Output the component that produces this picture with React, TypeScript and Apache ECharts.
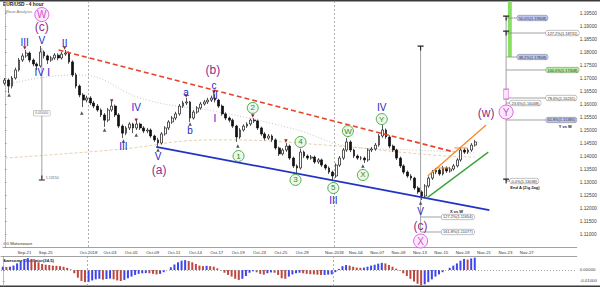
import React, { useEffect, useRef } from 'react';
import * as echarts from 'echarts';

const FONT = '"Liberation Sans", Arial, Helvetica, sans-serif';

/* ---------- EUR/USD price: 8-hour candles, slot 0 opens on Sep-19 ---------- */
const FIRST_DAY = -8; // trading day of slot 0, counted from Oct-01
const SLOTS_PER_DAY = 3;
const firstOpen = 1.168;

const closes = [
  1.1692, 1.1669, 1.1700, 1.1731, 1.1769, 1.1785, 1.1796, 1.1769, 1.1754, 1.1746,
  1.1800, 1.1785, 1.1769, 1.1777, 1.1788, 1.1777, 1.1792, 1.1796, 1.1762, 1.1712,
  1.1669, 1.1635, 1.1615, 1.1623, 1.1604, 1.1592, 1.1577, 1.1558, 1.1538, 1.1577,
  1.1592, 1.1558, 1.1515, 1.1488, 1.1508, 1.1523, 1.1508, 1.1523, 1.1508, 1.1496,
  1.1500, 1.1477, 1.1462, 1.1450, 1.1485, 1.1508, 1.1531, 1.1546, 1.1562, 1.1592,
  1.1604, 1.1608, 1.1546, 1.1569, 1.1585, 1.1600, 1.1608, 1.1615, 1.1623, 1.1615,
  1.1592, 1.1562, 1.1546, 1.1538, 1.1515, 1.1473, 1.1500, 1.1515, 1.1523, 1.1538,
  1.1535, 1.1508, 1.1485, 1.1469, 1.1477, 1.1462, 1.1431, 1.1408, 1.1423, 1.1438,
  1.1392, 1.1362, 1.1354, 1.1415, 1.1400, 1.1392, 1.1396, 1.1377, 1.1385, 1.1365,
  1.1354, 1.1338, 1.1323, 1.1365, 1.1392, 1.1423, 1.1454, 1.1423, 1.1400, 1.1392,
  1.1392, 1.1385, 1.1423, 1.1427, 1.1442, 1.1477, 1.1500, 1.1473, 1.1438, 1.1423,
  1.1392, 1.1362, 1.1338, 1.1323, 1.1315, 1.1277, 1.1262, 1.1246, 1.1285, 1.1315,
  1.1338, 1.1346, 1.1331, 1.1354, 1.1342, 1.1350, 1.1362, 1.1385, 1.1423, 1.1415,
  1.1423, 1.1442, 1.1454,
];

const highs = [
  1.1700, 1.1698, 1.1708, 1.1740, 1.1777, 1.1795, 1.1808, 1.1802, 1.1775, 1.1760,
  1.1823, 1.1806, 1.1790, 1.1785, 1.1796, 1.1795, 1.1800, 1.1808, 1.1802, 1.1768,
  1.1720, 1.1675, 1.1642, 1.1632, 1.1630, 1.1612, 1.1600, 1.1583, 1.1565, 1.1585,
  1.1608, 1.1598, 1.1565, 1.1522, 1.1515, 1.1530, 1.1528, 1.1535, 1.1528, 1.1515,
  1.1508, 1.1506, 1.1482, 1.1470, 1.1492, 1.1515, 1.1538, 1.1554, 1.1570, 1.1600,
  1.1612, 1.1623, 1.1612, 1.1577, 1.1592, 1.1608, 1.1616, 1.1624, 1.1632, 1.1638,
  1.1620, 1.1598, 1.1568, 1.1552, 1.1544, 1.1520, 1.1507, 1.1522, 1.1530, 1.1544,
  1.1546, 1.1540, 1.1513, 1.1492, 1.1485, 1.1483, 1.1468, 1.1436, 1.1430, 1.1450,
  1.1444, 1.1398, 1.1368, 1.1427, 1.1421, 1.1406, 1.1404, 1.1402, 1.1392, 1.1390,
  1.1370, 1.1360, 1.1344, 1.1372, 1.1400, 1.1431, 1.1469, 1.1460, 1.1428, 1.1406,
  1.1400, 1.1398, 1.1430, 1.1435, 1.1450, 1.1485, 1.1519, 1.1506, 1.1480, 1.1444,
  1.1428, 1.1398, 1.1368, 1.1344, 1.1330, 1.1320, 1.1284, 1.1268, 1.1292, 1.1322,
  1.1346, 1.1354, 1.1352, 1.1362, 1.1360, 1.1358, 1.1369, 1.1392, 1.1431, 1.1430,
  1.1430, 1.1450, 1.1462,
];

const lows = [
  1.1672, 1.1642, 1.1660, 1.1694, 1.1725, 1.1762, 1.1778, 1.1760, 1.1745, 1.1731,
  1.1740, 1.1775, 1.1754, 1.1762, 1.1770, 1.1768, 1.1771, 1.1785, 1.1755, 1.1704,
  1.1660, 1.1626, 1.1588, 1.1606, 1.1596, 1.1584, 1.1570, 1.1550, 1.1512, 1.1530,
  1.1570, 1.1550, 1.1507, 1.1469, 1.1480, 1.1500, 1.1488, 1.1500, 1.1500, 1.1488,
  1.1488, 1.1470, 1.1454, 1.1431, 1.1444, 1.1478, 1.1500, 1.1524, 1.1538, 1.1555,
  1.1585, 1.1596, 1.1531, 1.1540, 1.1562, 1.1578, 1.1594, 1.1600, 1.1608, 1.1606,
  1.1585, 1.1555, 1.1538, 1.1530, 1.1508, 1.1454, 1.1466, 1.1494, 1.1508, 1.1516,
  1.1527, 1.1500, 1.1478, 1.1460, 1.1462, 1.1454, 1.1424, 1.1400, 1.1402, 1.1416,
  1.1385, 1.1354, 1.1335, 1.1348, 1.1392, 1.1385, 1.1386, 1.1370, 1.1370, 1.1358,
  1.1346, 1.1331, 1.1304, 1.1316, 1.1358, 1.1385, 1.1416, 1.1415, 1.1392, 1.1385,
  1.1384, 1.1373, 1.1378, 1.1415, 1.1420, 1.1436, 1.1470, 1.1466, 1.1430, 1.1415,
  1.1385, 1.1354, 1.1330, 1.1316, 1.1306, 1.1270, 1.1254, 1.1231, 1.1240, 1.1278,
  1.1308, 1.1330, 1.1324, 1.1325, 1.1335, 1.1336, 1.1344, 1.1356, 1.1378, 1.1408,
  1.1408, 1.1416, 1.1436,
];

/* Awesome Oscillator (34,5), one value per slot */
const aoValues = [
  0.0030, 0.0028, 0.0030, 0.0040, 0.0060, 0.0080, 0.0100, 0.0108, 0.0100, 0.0085,
  0.0070, 0.0055, 0.0048, 0.0045, 0.0040, 0.0038, 0.0035, 0.0030, 0.0020, 0.0005,
  -0.0030, -0.0070, -0.0100, -0.0110, -0.0108, -0.0095, -0.0085, -0.0080, -0.0088, -0.0082,
  -0.0078, -0.0085, -0.0095, -0.0100, -0.0090, -0.0075, -0.0060, -0.0045, -0.0035, -0.0030,
  -0.0028, -0.0030, -0.0035, -0.0040, -0.0035, -0.0020, 0.0000, 0.0025, 0.0050, 0.0070,
  0.0085, 0.0090, 0.0082, 0.0070, 0.0055, 0.0040, 0.0035, 0.0038, 0.0035, 0.0030,
  0.0015, -0.0005, -0.0025, -0.0045, -0.0060, -0.0080, -0.0090, -0.0080, -0.0055, -0.0025,
  -0.0012, -0.0020, -0.0035, -0.0042, -0.0030, -0.0022, -0.0025, -0.0045, -0.0075, -0.0080,
  -0.0060, -0.0040, -0.0030, -0.0025, -0.0030, -0.0035, -0.0038, -0.0040, -0.0042, -0.0045,
  -0.0045, -0.0042, -0.0040, -0.0020, 0.0010, 0.0035, 0.0045, 0.0040, 0.0030, 0.0022,
  0.0020, 0.0022, 0.0030, 0.0040, 0.0048, 0.0058, 0.0065, 0.0060, 0.0045, 0.0030,
  0.0012, -0.0005, -0.0030, -0.0055, -0.0080, -0.0105, -0.0125, -0.0140, -0.0130, -0.0110,
  -0.0085, -0.0060, -0.0040, -0.0020, 0.0000, 0.0020, 0.0040, 0.0060, 0.0085, 0.0100,
  0.0095, 0.0105, 0.0112,
];

/* moving averages, sampled [slot, price] */
const maSlowPts = [[0, 1.1392], [30, 1.1423], [60, 1.1462], [90, 1.1442], [120, 1.1404], [132, 1.1396]];
const maMidPts = [[0, 1.1673], [20, 1.1712], [40, 1.1615], [60, 1.1569], [80, 1.1508], [100, 1.1431], [115, 1.1423], [132, 1.1412]];

/* date axis: trading day (from Oct-01) and its label */
const dateLabelDays = [-6, -4, 0, 2, 4, 6, 8, 10, 12, 14, 16, 18, 20, 23, 25, 27, 29, 31, 33, 35, 37, 39, 41];
const dateLabelTexts = ['Sep-21', 'Sep-25', 'Oct-2018', 'Oct-03', 'Oct-05', 'Oct-09', 'Oct-11', 'Oct-14', 'Oct-17', 'Oct-19', 'Oct-23', 'Oct-25', 'Oct-29', 'Nov-2018', 'Nov-04', 'Nov-07', 'Nov-09', 'Nov-13', 'Nov-15', 'Nov-18', 'Nov-21', 'Nov-23', 'Nov-27'];
const monthStartDays = [0, 23];

/* wave counts: [slot, price, text] */
const waveBlue: [number, number, string][] = [
  [5.6, 1.1838, 'III'], [10.4, 1.1846, 'V'], [9.7, 1.1723, 'IV'], [12.3, 1.1723, 'I'], [16.8, 1.1831, 'II'],
  [33.3, 1.1438, 'III'], [36.9, 1.1585, 'IV'], [43.0, 1.1400, 'V'],
  [50.9, 1.1646, 'a'], [52.0, 1.1500, 'b'], [58.7, 1.1673, 'c'], [59.0, 1.1631, 'II'], [59.0, 1.1546, 'I'],
  [92.2, 1.1227, 'III'], [105.8, 1.1585, 'IV'], [116.7, 1.1185, 'V'],
];
const wavePurple: [number, number, string][] = [
  [10.4, 1.1896, '(c)'], [58.4, 1.1731, '(b)'], [43.3, 1.1346, '(a)'], [135.1, 1.1565, '(w)'], [116.7, 1.1131, '(c)'],
];
const waveMagenta: [number, number, string][] = [
  [10.4, 1.1944, 'W'], [140.7, 1.1569, 'Y'], [116.7, 1.1073, 'X'],
];
const waveGreen: [number, number, string][] = [
  [65.6, 1.1400, '1'], [69.6, 1.1585, '2'], [81.6, 1.1308, '3'], [83.0, 1.1454, '4'], [92.2, 1.1277, '5'],
  [96.3, 1.1496, 'W'], [100.5, 1.1327, 'X'], [105.8, 1.1542, 'Y'],
];

/* swing pivots: [slot, price, 1 = high / 0 = low] */
const pivots: [number, number, number][] = [
  [1.2, 1.1635, 0], [21.6, 1.1565, 0], [28.0, 1.1500, 0], [33.3, 1.1458, 0], [36.9, 1.1481, 0], [43.0, 1.1423, 0],
  [52.0, 1.1523, 0], [65.4, 1.1438, 0], [81.6, 1.1323, 0], [92.2, 1.1292, 0], [100.5, 1.1362, 0], [116.7, 1.1219, 0],
  [5.6, 1.1815, 1], [16.8, 1.1815, 1], [30.0, 1.1612, 1], [36.9, 1.1538, 1], [50.9, 1.1631, 1], [58.7, 1.1646, 1],
  [69.6, 1.1554, 1], [78.9, 1.1458, 1], [83.0, 1.1435, 1], [96.3, 1.1477, 1], [105.8, 1.1527, 1],
];

/* trend lines: [[slot, price], [slot, price]] */
const channelTop = [[15.1, 1.1808], [126.2, 1.1415]];
const channelBottom = [[42.5, 1.1435], [136.0, 1.1192]];
const risingTop = [[118.7, 1.1323], [135.1, 1.1519]];
const risingBottom = [[118.4, 1.1238], [135.7, 1.1415]];
const breakLevels: [number, number, number][] = [[121.2, 124.8, 1.1354], [126.2, 129.8, 1.1431]];

/* measuring tools */
const leftTool = { slot: 10.4, top: 1.1815, bottom: 1.1315 };
const midTool = { slot: 116.7, top: 1.1815 };

/* Fibonacci projection of Y vs W */
const fibStemSlot = 140.7;
const fibPct = ['50.0%', '127.2%', '38.2%', '100.0%', '78.6%', '23.6%', '61.8%', '0.0%'];
const fibPrice = [1.19308, 1.18731, 1.17808, 1.17308, 1.16231, 1.16038, 1.15385, 1.13038];
const fibBoxSlot = [143.8, 151.9, 143.8, 151.9, 151.9, 141.8, 151.9, 141.8];
const fibBoxFill = ['#bcc5f2', '#ffffff', '#bcc5f2', '#b2ec9f', '#ffffff', '#ffffff', '#bcc5f2', '#ffffff'];
const targetZone = [1.17808, 1.1996];

/* X vs W extension */
const xwPct = ['127.2%', '161.8%'];
const xwPrice = [1.11654, 1.11077];
const xwBoxSlot = 122.6;

const notes: [number, number, string][] = [
  [157.3, 1.1512, 'Y vs W'], [146.0, 1.1277, 'End A (Zig Zag)'], [126.8, 1.1188, 'X vs W'],
];

const T_PATH = 'path://M0,0L10,0L10,1.8L5.9,1.8L5.9,8L4.1,8L4.1,1.8L0,1.8Z';

function segment(pts: number[][], color: string, width: number, type: any = 'solid', z = 3) {
  return {
    type: 'line', xAxisIndex: 0, yAxisIndex: 0, data: pts, symbol: 'none', silent: true, z,
    lineStyle: { color, width, type }, animation: false,
  };
}

function textMarks(rows: [number, number, string][], color: string, fontSize: number, weight: any = 'normal') {
  return {
    type: 'scatter', xAxisIndex: 0, yAxisIndex: 0, symbolSize: 0, silent: true, z: 8,
    itemStyle: { opacity: 1 },
    data: rows.map(([x, y, t]) => ({ value: [x, y], name: t })),
    label: { show: true, position: 'inside', formatter: (p: any) => p.name, color, fontSize, fontFamily: FONT, fontWeight: weight },
  };
}

function circleMarks(rows: [number, number, string][], size: number, fill: string, border: string, text: string, fontSize: number) {
  return {
    type: 'scatter', xAxisIndex: 0, yAxisIndex: 0, symbol: 'circle', symbolSize: size, silent: true, z: 8,
    itemStyle: { color: fill, borderColor: border, borderWidth: 1, opacity: 1 },
    data: rows.map(([x, y, t]) => ({ value: [x, y], name: t })),
    label: { show: true, position: 'inside', formatter: (p: any) => p.name, color: text, fontSize, fontFamily: FONT },
  };
}

function axisBox(value: number, fill: string, color: string) {
  return {
    yAxis: value, lineStyle: { opacity: 0 },
    label: {
      show: true, position: 'end', distance: 2, formatter: () => value.toFixed(5),
      backgroundColor: fill, color, fontSize: 4.6, padding: [1, 2], fontFamily: FONT,
      borderColor: '#8d8d8d', borderWidth: 0.5,
    },
  };
}

function buildOption() {
  const last = closes.length - 1;
  const dayToBoundary = (d: number) => (d - FIRST_DAY) * SLOTS_PER_DAY - 0.5;
  const candleData = closes.map((c, i) => [i, i === 0 ? firstOpen : closes[i - 1], c, lows[i], highs[i]]);
  const aoData = aoValues.map((v, i) => ({
    value: [i, v],
    itemStyle: { color: i > 0 && v < aoValues[i - 1] ? '#c0473f' : '#3d45ef' },
  }));
  const monthLines = monthStartDays.map((d) => ({
    xAxis: dayToBoundary(d), lineStyle: { color: '#9a9a9a', type: [2, 2], width: 0.8 }, label: { show: false },
  }));

  const series: any[] = [
    {
      type: 'line', xAxisIndex: 0, yAxisIndex: 0, data: maSlowPts, smooth: true, symbol: 'none', silent: true, z: 1,
      lineStyle: { color: '#e6cfae', width: 1, type: [3, 2] },
      markLine: { silent: true, symbol: 'none', data: [axisBox(maSlowPts[maSlowPts.length - 1][1], '#ffffff', '#333')] },
    },
    {
      type: 'line', xAxisIndex: 0, yAxisIndex: 0, data: maMidPts, smooth: true, symbol: 'none', silent: true, z: 1,
      lineStyle: { color: '#c4c4c4', width: 1, type: [1, 2] },
      markLine: { silent: true, symbol: 'none', data: [axisBox(maMidPts[maMidPts.length - 1][1], '#ffffff', '#333')] },
    },
    {
      type: 'candlestick', xAxisIndex: 0, yAxisIndex: 0, data: candleData, encode: { x: 0, y: [1, 2, 3, 4] },
      barWidth: 2.3, z: 2, silent: true,
      itemStyle: { color: '#ffffff', color0: '#111111', borderColor: '#111111', borderColor0: '#111111', borderWidth: 0.7 },
      markLine: { silent: true, symbol: 'none', data: [...monthLines, axisBox(closes[last], '#7474da', '#ffffff')] },
      markArea: {
        silent: true, itemStyle: { color: '#86de62' },
        data: [[{ coord: [fibStemSlot + 0.5, targetZone[0]] }, { coord: [fibStemSlot + 1.6, targetZone[1]] }]],
      },
    },
    segment(channelTop, '#e5432b', 1.6, [5, 3], 4),
    segment(channelBottom, '#2233c4', 1.8, 'solid', 4),
    segment(risingTop, '#f28a26', 1.3, 'solid', 4),
    segment(risingBottom, '#36a336', 1.3, 'solid', 4),
    ...breakLevels.map(([a, b, p]) => segment([[a, p], [b, p]], '#f28a26', 1, 'solid', 4)),
    segment([[leftTool.slot, leftTool.top], [leftTool.slot, leftTool.bottom]], '#8a8a8a', 0.8),
    segment([[midTool.slot, midTool.top], [midTool.slot, xwPrice[xwPrice.length - 1]]], '#8a8a8a', 0.8),
    segment([[fibStemSlot, Math.max(...fibPrice)], [fibStemSlot, Math.min(...fibPrice)]], '#8a8a8a', 0.8),
    ...fibPrice.map((p, i) => segment([[fibStemSlot, p], [fibBoxSlot[i], p]], '#8a8a8a', 0.8)),
    ...xwPrice.map((p) => segment([[midTool.slot, p], [xwBoxSlot, p]], '#8a8a8a', 0.8)),
    {
      type: 'scatter', xAxisIndex: 0, yAxisIndex: 0, symbol: T_PATH, symbolSize: [6, 5], silent: true, z: 6,
      itemStyle: { color: '#222', opacity: 1 },
      data: [
        { value: [leftTool.slot, leftTool.bottom], symbolRotate: 180 },
        { value: [midTool.slot, midTool.top] },
        { value: [fibStemSlot, fibPrice[0]] },
        { value: [fibStemSlot, fibPrice[1]] },
        { value: [fibStemSlot, fibPrice[7]] },
      ],
    },
    {
      type: 'scatter', xAxisIndex: 0, yAxisIndex: 0, symbol: 'rect', symbolSize: [5, 10], silent: true, z: 6,
      itemStyle: { color: '#fbe4fb', borderColor: '#d773d7', borderWidth: 0.8, opacity: 1 },
      data: [[fibStemSlot, 1.1638]],
    },
    {
      type: 'scatter', xAxisIndex: 0, yAxisIndex: 0, symbol: 'triangle', symbolSize: 3.5, silent: true, z: 6,
      data: pivots.map(([x, y, hi]) => ({
        value: [x, y], symbolRotate: hi ? 180 : 0,
        itemStyle: { color: hi ? '#8c2a2a' : '#555', opacity: 1 },
      })),
    },
    textMarks(waveBlue, '#2424cc', 10),
    textMarks(wavePurple, '#8a2f8e', 12),
    circleMarks(waveMagenta, 14, '#fde9fd', '#e163e1', '#d24fd2', 10),
    circleMarks(waveGreen, 11, '#ecf8ea', '#4fae4f', '#2f8d2f', 8),
    {
      type: 'scatter', xAxisIndex: 0, yAxisIndex: 0, symbolSize: 0, silent: true, z: 9,
      itemStyle: { opacity: 1 },
      data: [
        ...fibPrice.map((p, i) => ({
          value: [fibBoxSlot[i], p], name: `${fibPct[i]}(${p.toFixed(5)})`,
          label: { backgroundColor: fibBoxFill[i] },
        })),
        ...xwPrice.map((p, i) => ({
          value: [xwBoxSlot, p], name: `${xwPct[i]}(${p.toFixed(5)})`,
          label: { backgroundColor: '#ffffff' },
        })),
      ],
      label: {
        show: true, position: 'right', distance: 0, formatter: (p: any) => p.name,
        fontSize: 3.9, color: '#333', fontFamily: FONT, padding: [0.6, 1.5],
        borderColor: '#8d8d8d', borderWidth: 0.5, borderRadius: 2,
      },
    },
    {
      type: 'scatter', xAxisIndex: 0, yAxisIndex: 0, symbolSize: 0, silent: true, z: 9,
      itemStyle: { opacity: 1 },
      data: [
        { value: [leftTool.slot, (leftTool.top + leftTool.bottom) / 2], name: (leftTool.top - leftTool.bottom).toFixed(5), label: { position: 'inside', backgroundColor: '#fff', borderColor: '#999', borderWidth: 0.5, padding: [0.6, 1.5] } },
        { value: [leftTool.slot + 0.8, leftTool.bottom], name: leftTool.bottom.toFixed(5), label: { position: 'right', distance: 1 } },
      ],
      label: { show: true, formatter: (p: any) => p.name, fontSize: 3.6, color: '#666', fontFamily: FONT },
    },
    textMarks(notes, '#222', 4, 'bold'),
    {
      type: 'bar', xAxisIndex: 1, yAxisIndex: 1, data: aoData, barWidth: 2, silent: true, z: 2,
      markLine: {
        silent: true, symbol: 'none',
        data: [
          ...monthLines,
          { yAxis: 0, lineStyle: { color: '#8a8a8a', type: [1, 2], width: 0.8 }, label: { show: false } },
          {
            yAxis: aoValues[last], lineStyle: { opacity: 0 },
            label: {
              show: true, position: 'end', distance: 2, formatter: () => aoValues[last].toFixed(5),
              backgroundColor: '#ffffff', color: '#333', fontSize: 4.4, padding: [1, 2], fontFamily: FONT,
              borderColor: '#8d8d8d', borderWidth: 0.5,
            },
          },
        ],
      },
    },
  ];

  return {
    animation: false,
    backgroundColor: '#ffffff',
    textStyle: { fontFamily: FONT },
    grid: [
      { left: 1, top: 1, width: 577, height: 246 },
      { left: 1, top: 256, width: 577, height: 30 },
    ],
    xAxis: [
      {
        type: 'value', gridIndex: 0, min: -0.5, max: 160.5, interval: SLOTS_PER_DAY,
        axisLine: { show: true, onZero: false, lineStyle: { color: '#8c8c8c', width: 0.8 } },
        axisTick: { show: false }, splitLine: { show: false },
        axisLabel: {
          fontSize: 4.3, color: '#333', margin: 3, showMaxLabel: false, fontFamily: FONT,
          formatter: (v: number) => {
            const d = Math.round((v + 0.5) / SLOTS_PER_DAY) + FIRST_DAY;
            const i = dateLabelDays.indexOf(d);
            return i >= 0 ? dateLabelTexts[i] : '';
          },
        },
      },
      {
        type: 'value', gridIndex: 1, min: -0.5, max: 160.5, position: 'top',
        axisLine: { show: true, onZero: false, lineStyle: { color: '#8c8c8c', width: 0.8 } },
        axisTick: { show: false }, axisLabel: { show: false }, splitLine: { show: false },
      },
    ],
    yAxis: [
      {
        type: 'value', gridIndex: 0, position: 'right', min: 1.105, max: 1.19962, interval: 0.005,
        axisLine: { show: true, lineStyle: { color: '#9a9a9a', type: [1, 1], width: 0.8 } },
        axisTick: { show: true, length: 2, lineStyle: { color: '#8a8a8a', width: 0.6 } },
        splitLine: { show: false },
        axisLabel: {
          formatter: (v: number) => v.toFixed(5), fontSize: 4.8, color: '#444', margin: 3,
          showMinLabel: false, showMaxLabel: false, fontFamily: FONT,
        },
      },
      {
        type: 'value', gridIndex: 1, position: 'right', min: -0.01455, max: 0.01273, splitNumber: 2,
        axisLine: { show: true, lineStyle: { color: '#9a9a9a', type: [1, 1], width: 0.8 } },
        axisTick: { show: true, length: 2, lineStyle: { color: '#8a8a8a', width: 0.6 } },
        splitLine: { show: false },
        axisLabel: {
          formatter: (v: number) => (v > 0.005 ? '' : v.toFixed(5)), fontSize: 4.4, color: '#444', margin: 3,
          showMinLabel: false, showMaxLabel: false, fontFamily: FONT,
        },
      },
    ],
    graphic: [
      { type: 'rect', shape: { x: 0, y: 0, width: 600, height: 1.5 }, style: { fill: '#3b3b3b' }, silent: true },
      { type: 'rect', shape: { x: 0, y: 285.5, width: 600, height: 1.5 }, style: { fill: '#3b3b3b' }, silent: true },
      { type: 'text', x: 3, y: 2, style: { text: 'EUR/USD - 4 hour', fontSize: 4.8, fontWeight: 'bold', fill: '#222', fontFamily: FONT } },
      { type: 'text', x: 5, y: 9, style: { text: 'Wave Analysis', fontSize: 4.2, fill: '#777', fontFamily: FONT } },
      { type: 'text', x: 3, y: 241.5, style: { text: '⊙⊙ Motivewave', fontSize: 4.2, fill: '#333', fontFamily: FONT } },
      { type: 'text', x: 3, y: 258, style: { text: 'Awesome Oscillator(34,5)', fontSize: 4.2, fontWeight: 'bold', fill: '#222', fontFamily: FONT } },
    ],
    series,
  };
}

export default function App() {
  const ref = useRef<HTMLDivElement>(null);
  useEffect(() => {
    if (!ref.current) return;
    const chart = echarts.init(ref.current, undefined, { renderer: 'svg' });
    chart.setOption(buildOption() as any);
    return () => chart.dispose();
  }, []);
  return (
    <div
      ref={ref}
      style={{ position: 'absolute', left: 0, top: 0, width: 600, height: 287, background: '#fff' }}
    />
  );
}
